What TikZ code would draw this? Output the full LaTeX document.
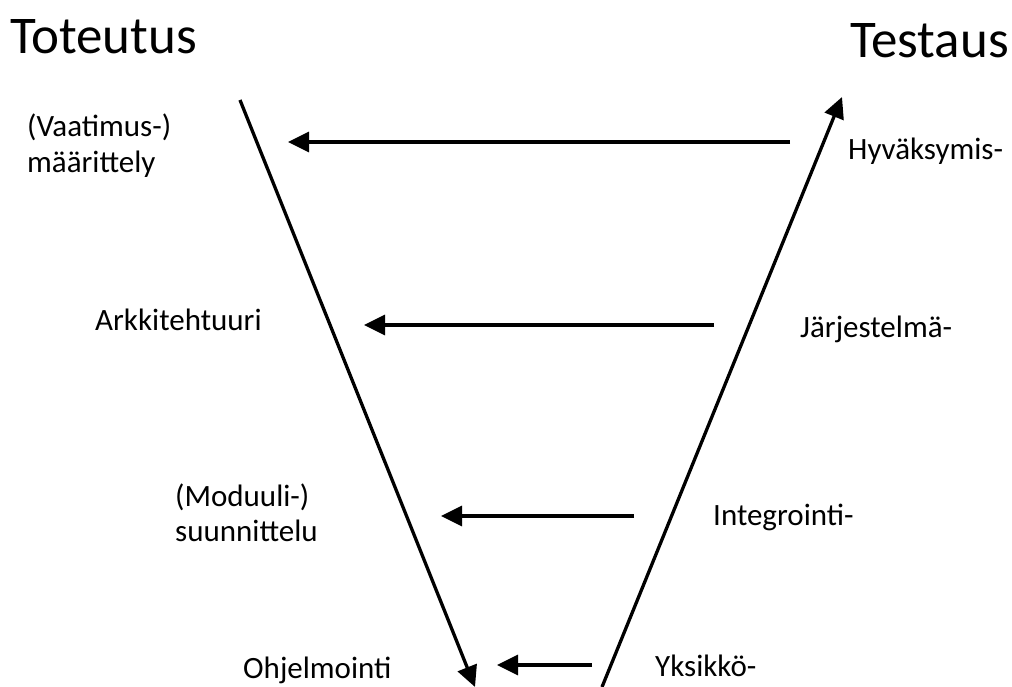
\documentclass[tikz,border=0pt]{standalone}
\usepackage{fontspec}
\setmainfont{Carlito}
\usetikzlibrary{arrows.meta}
\begin{document}
\begin{tikzpicture}[x=1pt,y=-1pt,
  title/.style={anchor=base west,inner sep=0pt,font=\fontsize{53}{64}\selectfont},
  phase/.style={anchor=base west,inner sep=0pt,font=\fontsize{31}{37}\selectfont},
  flow/.style={line width=3.3pt,-{Triangle[length=21pt,width=20pt]}}]
  \useasboundingbox (0,0) rectangle (1012,687);

  % column headings
  \node[title] (impl) at (10,54) {Toteutus};
  \node[title] (test) at (850,58) {Testaus};

  % development phases (left)
  \node[phase] (req1) at (27,137) {(Vaatimus-)};
  \node[phase] (req2) at (27,173) {määrittely};
  \node[phase] (arch) at (95,330) {Arkkitehtuuri};
  \node[phase] (mod1) at (175,506) {(Moduuli-)};
  \node[phase] (mod2) at (175,541) {suunnittelu};
  \node[phase] (prog) at (243,678) {Ohjelmointi};

  % test levels (right)
  \node[phase] (acc) at (848,160) {Hyväksymis-};
  \node[phase] (sys) at (800,337) {Järjestelmä-};
  \node[phase] (int) at (713,525) {Integrointi-};
  \node[phase] (unit) at (655,676) {Yksikkö-};

  % the V
  \coordinate (dtop) at (240,100);
  \coordinate (dbot) at (475,687);
  \coordinate (tbot) at (602,687);
  \coordinate (ttop) at (842,97);
  \draw[flow] (dtop) -- (dbot);
  \draw[flow] (tbot) -- (ttop);

  % feedback from each test level to its phase
  \coordinate (a1s) at (790,142); \coordinate (a1e) at (288,142);
  \coordinate (a2s) at (714,325); \coordinate (a2e) at (364,325);
  \coordinate (a3s) at (634,516); \coordinate (a3e) at (441,516);
  \coordinate (a4s) at (592,665); \coordinate (a4e) at (497,665);
  \draw[flow] (a1s) -- (a1e);
  \draw[flow] (a2s) -- (a2e);
  \draw[flow] (a3s) -- (a3e);
  \draw[flow] (a4s) -- (a4e);
\end{tikzpicture}
\end{document}
